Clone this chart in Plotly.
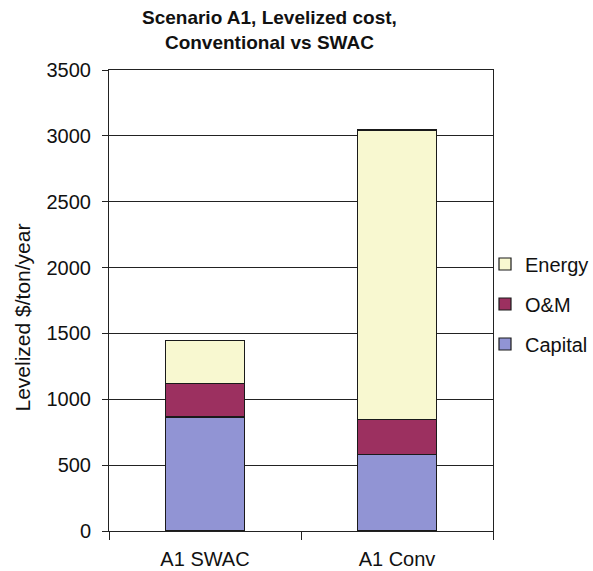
import plotly.graph_objects as go

categories = ["A1 SWAC", "A1 Conv"]
capital = [865, 580]
om = [255, 265]
energy = [325, 2200]

series_names = ["Capital", "O&M", "Energy"]
series_values = [capital, om, energy]
series_colors = ["#9194D4", "#9C3060", "#F8F8D0"]
legend_ranks = [3, 2, 1]

y_ticks = [0, 500, 1000, 1500, 2000, 2500, 3000, 3500]

FONT = "Liberation Sans, Arial, sans-serif"
TXT = "#111111"

W, H = 593, 571
L, R, T, B = 109, 100, 70, 40
PW, PH = W - L - R, H - T - B


def px_x(x):
    return (x - L) / PW


def px_y(y):
    return 1 - (y - T) / PH


fig = go.Figure()
for name, vals, color, rank in zip(series_names, series_values, series_colors, legend_ranks):
    fig.add_trace(go.Bar(
        x=categories, y=vals, name=name,
        marker=dict(color=color, line=dict(color="#1a1a1a", width=1.2)),
        width=0.41, legendgroup=name, legendrank=rank,
    ))

fig.update_layout(
    barmode="stack",
    width=W, height=H,
    margin=dict(l=L, r=R, t=T, b=B, autoexpand=False),
    paper_bgcolor="white", plot_bgcolor="white",
    font=dict(family=FONT, size=20, color=TXT),
    legend=dict(
        x=px_x(485), xanchor="left", y=px_y(304), yanchor="middle",
        traceorder="grouped", tracegroupgap=11,
        font=dict(family=FONT, size=20, color=TXT),
        itemwidth=30, bgcolor="rgba(0,0,0,0)",
    ),
    showlegend=True,
)

# chart title (two lines)
fig.add_annotation(
    text="<b>Scenario A1, Levelized cost,<br>Conventional vs SWAC</b>",
    xref="paper", yref="paper", x=px_x(269), y=px_y(29.5),
    xanchor="center", yanchor="middle", showarrow=False,
    font=dict(family=FONT, size=19, color=TXT),
)

# vertical axis title, placed in the left margin
fig.add_annotation(
    text="Levelized $/ton/year", textangle=-90,
    xref="paper", yref="paper",
    x=px_x(22), y=px_y(317.5),
    xanchor="center", yanchor="middle", showarrow=False,
    font=dict(family=FONT, size=21, color=TXT),
)

fig.update_xaxes(
    showline=True, linecolor="#222", linewidth=1, mirror=True,
    ticks="outside", tickson="boundaries", ticklen=8, tickcolor="#222",
    tickfont=dict(family=FONT, size=20, color=TXT),
    ticklabelstandoff=10,
    showgrid=False,
)
fig.update_yaxes(
    range=[0, 3500], tickvals=y_ticks,
    showline=True, linecolor="#222", linewidth=1, mirror=True,
    ticks="outside", ticklen=6, tickcolor="#222",
    showgrid=True, gridcolor="#222", gridwidth=1,
    zeroline=False,
    tickfont=dict(family=FONT, size=20, color=TXT),
    ticklabelstandoff=7,
)

fig.write_html("out.html")
